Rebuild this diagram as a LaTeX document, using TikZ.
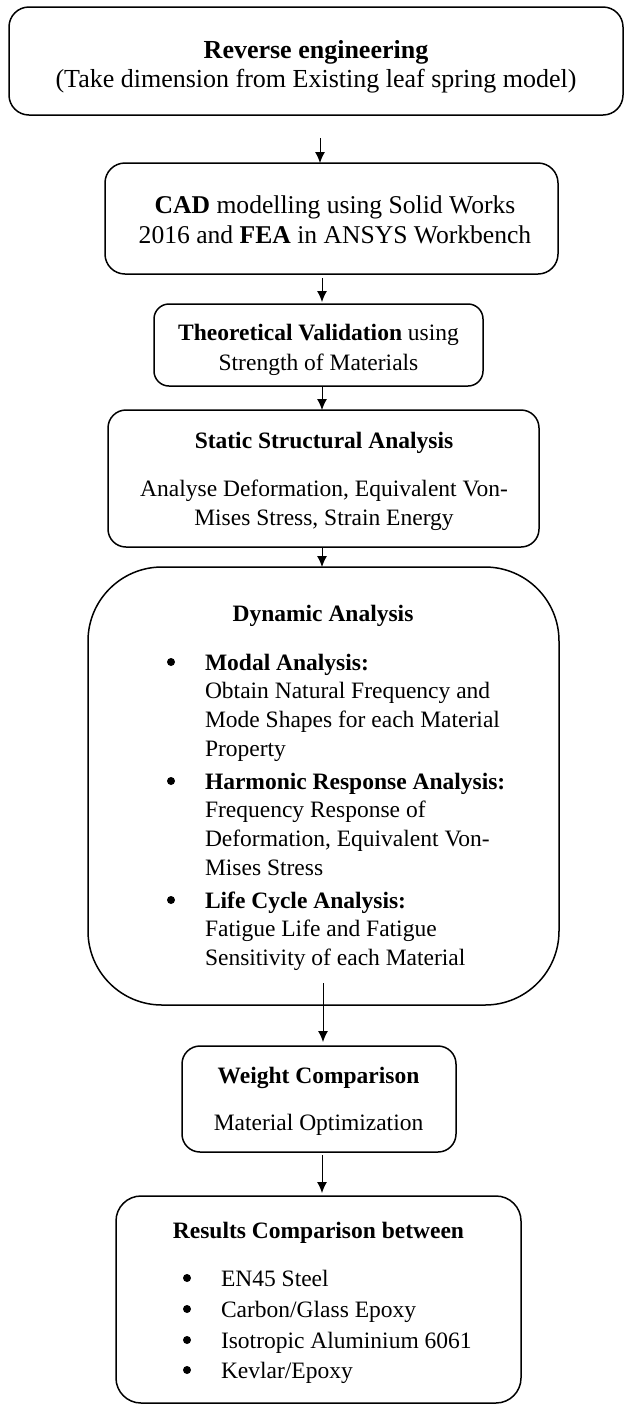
\documentclass[tikz,border=0pt]{standalone}
\usepackage{fontspec}
\setmainfont{Liberation Serif}
\usetikzlibrary{arrows.meta}
\tikzset{
  box/.style={draw, line width=1.5pt, inner sep=0pt, outer sep=0pt},
  txt/.style={inner sep=0pt, outer sep=0pt, anchor=base, font=\fontsize{23.5}{28}\selectfont},
  lefttxt/.style={txt, anchor=base west},
  dot/.style={circle, fill=black, draw=none, minimum size=8pt, inner sep=0pt},
  arr/.style={line width=1pt, -{Latex[length=11pt,width=10pt]}}
}
\begin{document}
\begin{tikzpicture}[x=1pt,y=-1pt]
\useasboundingbox (0,0) rectangle (624,1406);
% boxes
\node[box, rounded corners=20pt, minimum width=614pt, minimum height=108pt] (b1) at (316,61) {};
\node[box, rounded corners=20pt, minimum width=453pt, minimum height=111pt] (b2) at (331.5,218.5) {};
\node[box, rounded corners=15pt, minimum width=329pt, minimum height=82pt] (b3) at (318.5,345) {};
\node[box, rounded corners=18pt, minimum width=431pt, minimum height=137pt] (b4) at (323.5,478.5) {};
\node[box, rounded corners=74pt, minimum width=471pt, minimum height=438pt] (b5) at (323.5,786) {};
\node[box, rounded corners=18pt, minimum width=274pt, minimum height=106pt] (b6) at (319,1099) {};
\node[box, rounded corners=25pt, minimum width=405pt, minimum height=207pt] (b7) at (318.5,1299.5) {};
% box 1 text
\node[txt, font=\fontsize{26}{31}\selectfont\bfseries] (t1a) at (316,58.5) {Reverse engineering};
\node[txt, font=\fontsize{26}{31}\selectfont] (t1b) at (316,87.5) {(Take dimension from Existing leaf spring model)};
% box 2 text
\node[txt, font=\fontsize{25.6}{30}\selectfont] (t2a) at (335,213.5) {\textbf{CAD} modelling using Solid Works};
\node[txt, font=\fontsize{25.6}{30}\selectfont] (t2b) at (335,243.5) {2016 and \textbf{FEA} in ANSYS Workbench};
% box 3 text
\node[txt] (t3a) at (318.5,340) {\textbf{Theoretical Validation} using};
\node[txt] (t3b) at (318.5,370) {Strength of Materials};
% box 4 text
\node[txt] (t4a) at (324,448) {\textbf{Static Structural Analysis}};
\node[txt] (t4b) at (324,496) {Analyse Deformation, Equivalent Von-};
\node[txt] (t4c) at (324,525) {Mises Stress, Strain Energy};
% box 5 text
\node[txt] (t5h) at (323,621) {\textbf{Dynamic Analysis}};
\node[dot] (u1) at (171,662) {};
\node[lefttxt] (t5a) at (205,670) {\textbf{Modal Analysis:}};
\node[lefttxt] (t5b) at (205,698.5) {Obtain Natural Frequency and};
\node[lefttxt] (t5c) at (205,727.5) {Mode Shapes for each Material};
\node[lefttxt] (t5d) at (205,756.5) {Property};
\node[dot] (u2) at (171,781) {};
\node[lefttxt] (t5e) at (205,789) {\textbf{Harmonic Response Analysis:}};
\node[lefttxt] (t5f) at (205,817.5) {Frequency Response of};
\node[lefttxt] (t5g) at (205,846.5) {Deformation, Equivalent Von-};
\node[lefttxt] (t5i) at (205,875) {Mises Stress};
\node[dot] (u3) at (171,900) {};
\node[lefttxt] (t5j) at (205,908) {\textbf{Life Cycle Analysis:}};
\node[lefttxt] (t5k) at (205,936.5) {Fatigue Life and Fatigue};
\node[lefttxt] (t5l) at (205,965) {Sensitivity of each Material};
% box 6 text
\node[txt] (t6a) at (318.5,1083) {\textbf{Weight Comparison}};
\node[txt] (t6b) at (318.5,1130) {Material Optimization};
% box 7 text
\node[txt] (t7h) at (318.5,1238) {\textbf{Results Comparison between}};
\node[dot] (v1) at (187,1278) {};
\node[lefttxt] (t7a) at (221,1286) {EN45 Steel};
\node[dot] (v2) at (187,1309) {};
\node[lefttxt] (t7b) at (221,1317) {Carbon/Glass Epoxy};
\node[dot] (v3) at (187,1340) {};
\node[lefttxt] (t7c) at (221,1348) {Isotropic Aluminium 6061};
\node[dot] (v4) at (187,1370) {};
\node[lefttxt] (t7d) at (221,1378) {Kevlar/Epoxy};
% arrows
\coordinate (a1) at (320,138);
\coordinate (a2) at (322,278);
\coordinate (a3) at (322,386);
\coordinate (a4) at (322,547);
\coordinate (a5) at (323,983);
\coordinate (a6) at (322,1155);
\draw[arr] (a1) -- (a1 |- b2.north);
\draw[arr] (a2) -- ([yshift=2pt]a2 |- b3.north);
\draw[arr] (a3) -- (a3 |- b4.north);
\draw[arr] (a4) -- (a4 |- b5.north);
\draw[arr] (a5) -- ([yshift=4pt]a5 |- b6.north);
\draw[arr] (a6) -- ([yshift=3pt]a6 |- b7.north);
\end{tikzpicture}
\end{document}
